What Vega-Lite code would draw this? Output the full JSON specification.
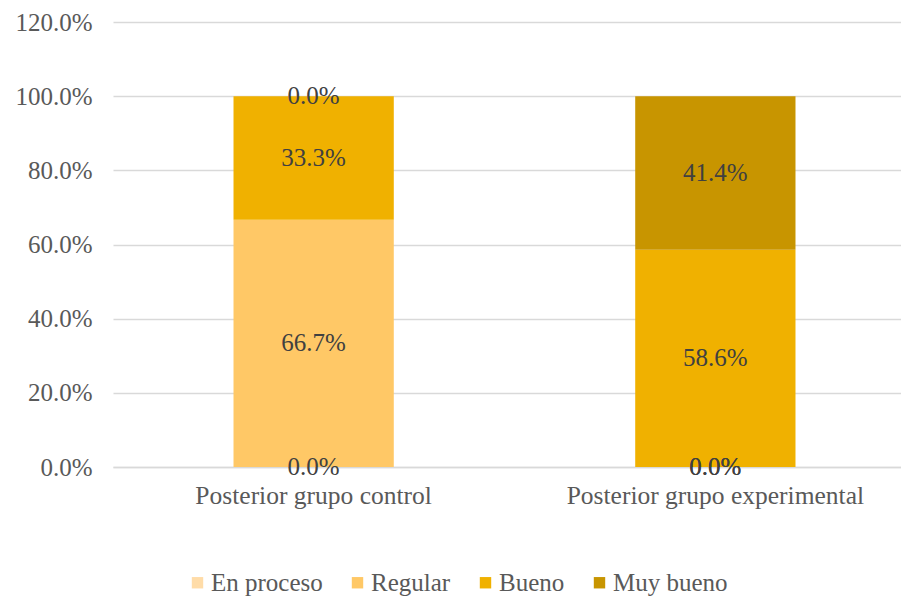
{
  "$schema": "https://vega.github.io/schema/vega-lite/v6.json",
  "autosize": {"type": "none"},
  "width": 803,
  "height": 445,
  "padding": {"left": 113, "top": 22, "right": 0, "bottom": 144},
  "background": "white",
  "config": {
    "view": {"stroke": null},
    "font": "Liberation Serif"
  },
  "data": {
    "values": [
      {"grupo": "Posterior grupo control", "nivel": "En proceso", "orden": 1, "valor": 0.0},
      {"grupo": "Posterior grupo control", "nivel": "Regular", "orden": 2, "valor": 0.667},
      {"grupo": "Posterior grupo control", "nivel": "Bueno", "orden": 3, "valor": 0.333},
      {"grupo": "Posterior grupo control", "nivel": "Muy bueno", "orden": 4, "valor": 0.0},
      {"grupo": "Posterior grupo experimental", "nivel": "En proceso", "orden": 1, "valor": 0.0},
      {"grupo": "Posterior grupo experimental", "nivel": "Regular", "orden": 2, "valor": 0.0},
      {"grupo": "Posterior grupo experimental", "nivel": "Bueno", "orden": 3, "valor": 0.586},
      {"grupo": "Posterior grupo experimental", "nivel": "Muy bueno", "orden": 4, "valor": 0.414}
    ]
  },
  "encoding": {
    "x": {
      "field": "grupo",
      "type": "nominal",
      "sort": null,
      "scale": {"paddingInner": 0.601, "paddingOuter": 0.3},
      "axis": {
        "title": null,
        "labelAngle": 0,
        "labelFont": "Liberation Serif",
        "labelFontSize": 25.5,
        "labelColor": "#595959",
        "labelLimit": 0,
        "ticks": false,
        "domain": true,
        "domainColor": "#d9d9d9",
        "domainWidth": 1.5,
        "labelPadding": 16
      }
    }
  },
  "layer": [
    {
      "mark": {"type": "bar"},
      "encoding": {
        "y": {
          "field": "valor",
          "type": "quantitative",
          "stack": "zero",
          "scale": {"domain": [0, 1.2], "nice": false},
          "axis": {
            "title": null,
            "format": ".1%",
            "values": [0, 0.2, 0.4, 0.6, 0.8, 1.0, 1.2],
            "labelFont": "Liberation Serif",
            "labelFontSize": 25,
            "labelColor": "#595959",
            "labelPadding": 21,
            "ticks": false,
            "domain": false,
            "grid": true,
            "gridColor": "#d9d9d9",
            "gridWidth": 1.5
          }
        },
        "order": {"field": "orden", "type": "quantitative"},
        "color": {
          "field": "nivel",
          "type": "nominal",
          "scale": {
            "domain": ["En proceso", "Regular", "Bueno", "Muy bueno"],
            "range": ["#FFDCA8", "#FFC866", "#F0B100", "#C89500"]
          },
          "legend": {
            "title": null,
            "orient": "none",
            "direction": "horizontal",
            "legendX": 72,
            "legendY": 548,
            "symbolType": "square",
            "symbolSize": 130,
            "symbolStrokeWidth": 0,
            "labelFont": "Liberation Serif",
            "labelFontSize": 25,
            "labelColor": "#595959",
            "labelOffset": 1,
            "columnPadding": 22
          }
        }
      }
    },
    {
      "mark": {"type": "text", "font": "Liberation Serif", "fontSize": 25, "color": "#404040", "baseline": "middle"},
      "encoding": {
        "y": {"field": "valor", "type": "quantitative", "stack": "zero", "bandPosition": 0.5},
        "order": {"field": "orden", "type": "quantitative"},
        "text": {"field": "valor", "type": "quantitative", "format": ".1%"}
      }
    }
  ]
}
